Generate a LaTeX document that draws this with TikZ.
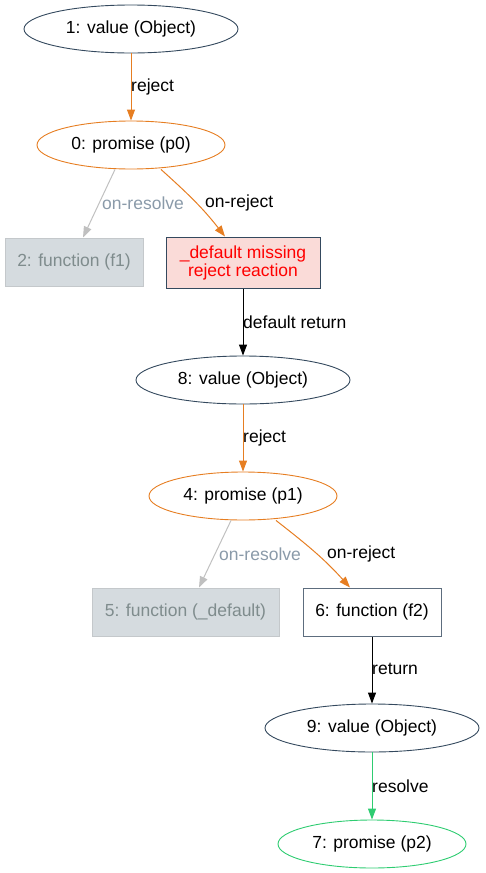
\documentclass[tikz,border=0pt]{standalone}
\usepackage{fontspec}
\setmainfont{Liberation Sans}
\usetikzlibrary{shapes.geometric,arrows.meta}
\definecolor{dark}{HTML}{34495E}
\definecolor{boxb}{HTML}{5D6D7E}
\definecolor{orng}{HTML}{E67E22}
\definecolor{grn}{HTML}{2ECC71}
\definecolor{gedge}{HTML}{C0C0C0}
\definecolor{gfill}{HTML}{D5DBDF}
\definecolor{gbord}{HTML}{C4C8CB}
\definecolor{gtext}{HTML}{7F8C8D}
\definecolor{glab}{HTML}{8A9AA9}
\definecolor{rfill}{HTML}{FADBD8}
\tikzset{
  every node/.style={font=\fontsize{17.5}{20}\selectfont, inner sep=0pt},
  valnode/.style={ellipse, draw=dark, line width=0.9pt, minimum width=214pt, minimum height=48pt},
  pronode/.style={ellipse, draw=orng, line width=0.9pt, minimum width=188pt, minimum height=48pt},
  grnnode/.style={ellipse, draw=grn, line width=0.9pt, minimum width=188pt, minimum height=48pt},
  fnbox/.style={rectangle, draw=boxb, line width=1pt, minimum width=138pt, minimum height=48pt},
  grybox/.style={rectangle, draw=gbord, fill=gfill, text=gtext, line width=1pt, minimum height=48pt},
  redbox/.style={rectangle, draw=dark, fill=rfill, text=red, line width=1pt, minimum width=154pt, minimum height=51pt, align=center},
  edg/.style={line width=1pt, -{Triangle[length=11pt,width=8pt]}},
  elab/.style={anchor=west}
}
\begin{document}
\begin{tikzpicture}[x=1pt,y=-1pt]
\useasboundingbox (0,0) rectangle (485,873);
\node[valnode] (n1) at (131,29) {1: value (Object)};
\node[pronode] (n0) at (131,145) {0: promise (p0)};
\node[grybox, minimum width=138pt] (n2) at (74,262) {2: function (f1)};
\node[redbox] (nd) at (243,262.5) {\_default missing\\[-2pt]reject reaction};
\node[valnode] (n8) at (243,380) {8: value (Object)};
\node[pronode] (n4) at (243,496) {4: promise (p1)};
\node[grybox, minimum width=187pt] (n5) at (185.5,612) {5: function (\_default)};
\node[fnbox] (n6) at (372,612) {6: function (f2)};
\node[valnode] (n9) at (372,728) {9: value (Object)};
\node[grnnode] (n7) at (372,844) {7: promise (p2)};

\draw[edg, orng] (n1) -- (n0);
\node[elab] (l1) at (131,87) {reject};
\draw[edg, gedge] ([xshift=-16pt]n0.south) -- ([xshift=9pt]n2.north);
\node[elab, text=glab] (l2) at (102,203) {on-resolve};
\draw[edg, orng] ([xshift=30pt]n0.south) to[out=-42,in=128] ([xshift=-18pt]nd.north);
\node[elab] (l3) at (205,203) {on-reject};
\draw[edg, black] (nd) -- (n8);
\node[elab] (l4) at (243,322) {default return};
\draw[edg, orng] (n8) -- (n4);
\node[elab] (l5) at (243,438) {reject};
\draw[edg, gedge] ([xshift=-12pt]n4.south) -- ([xshift=13.5pt]n5.north);
\node[elab, text=glab] (l6) at (219,554) {on-resolve};
\draw[edg, orng] ([xshift=33pt]n4.south) to[out=-38,in=132] ([xshift=-22pt]n6.north);
\node[elab] (l7) at (327,554) {on-reject};
\draw[edg, black] (n6) -- (n9);
\node[elab] (l8) at (372,669) {return};
\draw[edg, grn] (n9) -- (n7);
\node[elab] (l9) at (372,786) {resolve};
\end{tikzpicture}
\end{document}
